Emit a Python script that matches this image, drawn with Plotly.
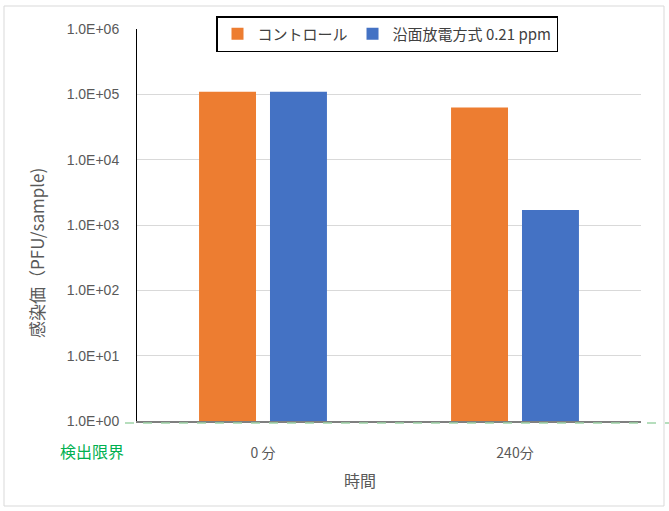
import plotly.graph_objects as go

categories = ["0 分", "240分"]
control = [1.1e5, 6.3e4]
discharge = [1.1e5, 1.7e3]
series_names = ["コントロール", "沿面放電方式 0.21 ppm"]
y_tickvals = [1, 10, 100, 1e3, 1e4, 1e5, 1e6]
y_ticktext = ["1.0E+00", "1.0E+01", "1.0E+02", "1.0E+03", "1.0E+04", "1.0E+05", "1.0E+06"]

W, H = 669, 511
L, R, T, B = 137, 28, 29, 90
pw, ph = W - L - R, H - T - B

def px(x):
    return (x - L) / pw

def py(y):
    return (H - B - y) / ph

font_jp = "Noto Sans CJK JP, Noto Sans, sans-serif"
font_num = "Liberation Sans, Noto Sans, sans-serif"

fig = go.Figure()
fig.add_trace(go.Bar(x=categories, y=control, name=series_names[0],
                     marker=dict(color="#ED7D31", line=dict(width=0))))
fig.add_trace(go.Bar(x=categories, y=discharge, name=series_names[1],
                     marker=dict(color="#4472C4", line=dict(width=0))))

fig.update_layout(
    width=W, height=H,
    margin=dict(l=L, r=R, t=T, b=B),
    paper_bgcolor="white", plot_bgcolor="white",
    barmode="group", bargap=0.437, bargroupgap=0.197,
    font=dict(family=font_jp, color="#595959"),
    legend=dict(orientation="h", x=px(387), xanchor="center", y=py(16), yanchor="top",
                bordercolor="black", borderwidth=1.5, bgcolor="white",
                font=dict(size=15, color="#404040", family=font_jp),
                itemwidth=30, tracegroupgap=0),
    showlegend=True,
)
fig.update_yaxes(type="log", range=[0, 6], tickvals=y_tickvals, ticktext=y_ticktext,
                 showgrid=True, gridcolor="#d9d9d9", gridwidth=1,
                 showline=True, linecolor="black", linewidth=1,
                 ticks="", ticklabelstandoff=14,
                 tickfont=dict(size=14, color="#595959", family=font_num),
                 zeroline=False, fixedrange=True)
fig.update_xaxes(showline=True, linecolor="#7f7f7f", linewidth=1.5,
                 ticks="", ticklabelstandoff=18,
                 tickfont=dict(size=14, color="#595959", family=font_jp))

fig.add_shape(type="rect", xref="paper", yref="paper",
              x0=px(4), x1=px(664), y0=py(506), y1=py(6),
              line=dict(color="#d9d9d9", width=1), layer="below")
fig.add_shape(type="line", xref="paper", yref="paper",
              x0=px(125), x1=px(669), y0=py(423), y1=py(423),
              line=dict(color="#9fd4a8", width=1.5, dash="dash"))

fig.add_annotation(text="検出限界", xref="paper", yref="paper", x=px(92), y=py(451),
                   xanchor="center", yanchor="middle",
                   showarrow=False, font=dict(size=16, color="#00B050", family=font_jp))
fig.add_annotation(text="時間", xref="paper", yref="paper", x=px(360), y=py(480),
                   xanchor="center", yanchor="middle",
                   showarrow=False, font=dict(size=16, color="#595959", family=font_jp))
fig.add_annotation(text="感染価（PFU/sample)", xref="paper", yref="paper", x=px(36), y=py(253),
                   xanchor="center", yanchor="middle",
                   textangle=-90, showarrow=False,
                   font=dict(size=17, color="#595959", family=font_jp))

fig.write_html("out.html")
